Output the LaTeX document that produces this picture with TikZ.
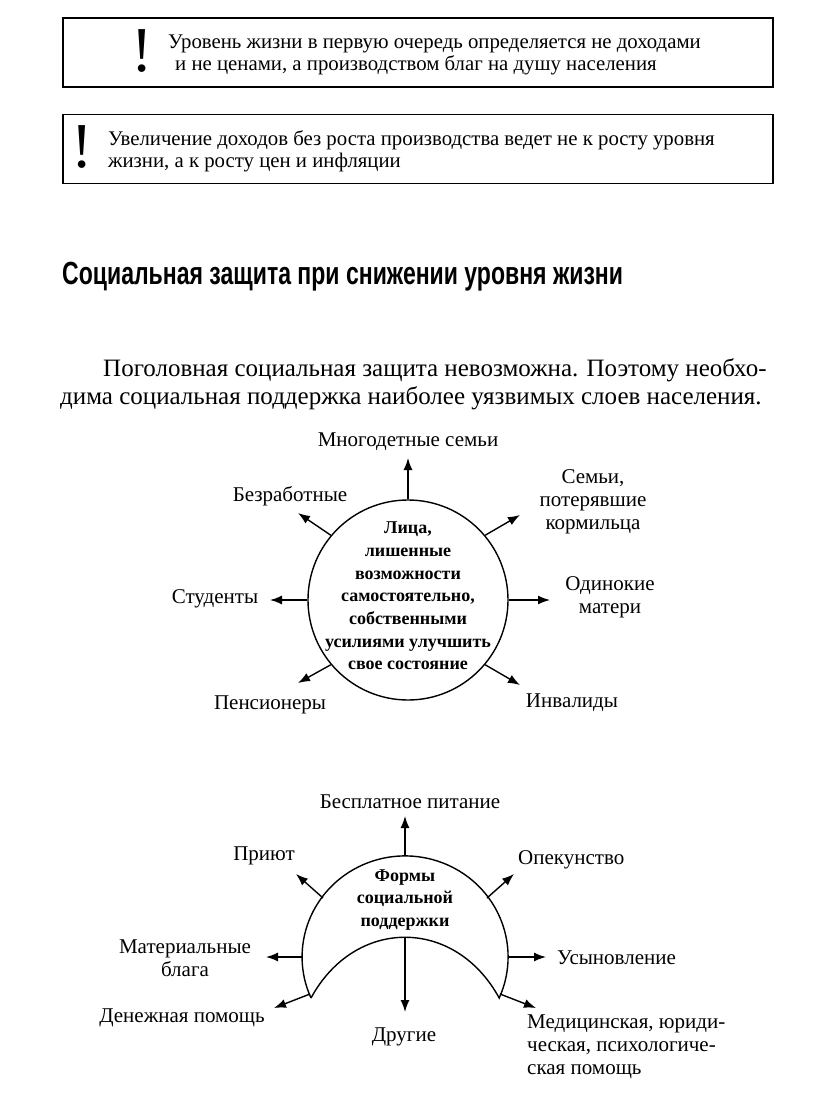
\documentclass[tikz,border=0pt]{standalone}
\usepackage{fontspec}
\setmainfont{Liberation Serif}
\newfontfamily\headfont[FakeStretch=0.72]{Liberation Sans}
\usetikzlibrary{arrows.meta}

\begin{document}
\begin{tikzpicture}[x=1pt,y=-1pt,
  every node/.style={inner sep=0pt},
  notebox/.style={draw=black,line width=1.8pt,minimum width=710pt,minimum height=69pt},
  excl/.style={font=\fontsize{64}{64}\selectfont},
  note/.style={font=\fontsize{20.8}{22}\selectfont,align=left,anchor=west},
  head/.style={font=\headfont\bfseries\fontsize{32}{34}\selectfont,anchor=west},
  para/.style={font=\fontsize{25}{28}\selectfont,align=left,anchor=west},
  lbl/.style={font=\fontsize{21}{23}\selectfont,align=center},
  ctr/.style={font=\fontsize{18}{22.7}\selectfont\bfseries,align=center},
  ar/.style={-{Latex[length=12pt,width=9pt]},line width=1.4pt}]
\fill[white] (0,0) rectangle (816,1097);
\useasboundingbox (0,0) rectangle (816,1097);
% notes
\node[notebox] (note1) at (418,52.5) {};
\node[excl] (ex1) at (142,51) {!};
\node[note] (t1) at (168,55) {Уровень жизни в первую очередь определяется не доходами\\\hspace*{7pt}и не ценами, а производством благ на душу населения};
\node[notebox] (note2) at (418,149) {};
\node[excl] (ex2) at (82,147) {!};
\node[note] (t2) at (108,151) {Увеличение доходов без роста производства ведет не к росту уровня\\жизни, а к росту цен и инфляции};
% heading and text
\node[head] (title) at (62,277) {Социальная защита при снижении уровня жизни};
\node[para] (txt) at (60,384) {\hspace*{43pt}Поголовная социальная защита невозможна. Поэтому необхо-\\дима социальная поддержка наиболее уязвимых слоев населения.};
% who needs support
\node[draw=black,circle,line width=1.4pt,minimum size=200pt] (lica) at (408,600) {};
\node[ctr] (lt) at (408,596) {Лица,\\лишенные\\возможности\\самостоятельно,\\собственными\\усилиями улучшить\\свое состояние};
\node[lbl] (mnog) at (408,442) {Многодетные семьи};
\node[lbl] (bezr) at (290,496) {Безработные};
\node[lbl] (semi) at (593,502) {Семьи,\\потерявшие\\кормильца};
\node[lbl] (stud) at (215,599) {Студенты};
\node[lbl] (odin) at (610,597) {Одинокие\\матери};
\node[lbl] (pens) at (270,705) {Пенсионеры};
\node[lbl] (inv) at (572,703) {Инвалиды};
\coordinate (a1) at (408,458);
\coordinate (a2) at (298,513);
\coordinate (a3) at (520,515);
\coordinate (a4) at (270,600);
\coordinate (a5) at (550,600);
\coordinate (a6) at (298,683);
\coordinate (a7) at (520,685);
\draw[ar] (lica.north) -- (a1);
\draw[ar] (lica.140) -- (a2);
\draw[ar] (lica.40) -- (a3);
\draw[ar] (lica.west) -- (a4);
\draw[ar] (lica.east) -- (a5);
\draw[ar] (lica.220) -- (a6);
\draw[ar] (lica.320) -- (a7);
% forms of support
\coordinate (fl) at (311,998);
\coordinate (fr) at (499,998);
\draw[line width=1.4pt] (fl) arc[start angle=156,end angle=384,x radius=103,y radius=101]
  .. controls (455,917) and (355,917) .. (fl);
\node[ctr] (forms) at (405,900) {Формы\\социальной\\поддержки};
\coordinate (s1) at (405,856);
\coordinate (s2) at (323,898);
\coordinate (s3) at (487,898);
\coordinate (s4) at (302,957);
\coordinate (s5) at (508,957);
\coordinate (s6) at (310,994);
\coordinate (s7) at (500,994);
\coordinate (s8) at (405,937);
\coordinate (b1) at (405,816);
\coordinate (b2) at (296,874);
\coordinate (b3) at (514,874);
\coordinate (b4) at (266,957);
\coordinate (b5) at (546,957);
\coordinate (b6) at (274,1008);
\coordinate (b7) at (536,1008);
\coordinate (b8) at (405,1012);
\draw[ar] (s1) -- (b1);
\draw[ar] (s2) -- (b2);
\draw[ar] (s3) -- (b3);
\draw[ar] (s4) -- (b4);
\draw[ar] (s5) -- (b5);
\draw[ar] (s6) -- (b6);
\draw[ar] (s7) -- (b7);
\draw[ar] (s8) -- (b8);
\node[lbl] (pit) at (410,802) {Бесплатное питание};
\node[lbl] (pri) at (264,856) {Приют};
\node[lbl,anchor=west] (opek) at (518,860) {Опекунство};
\node[lbl] (mat) at (185,958) {Материальные\\блага};
\node[lbl,anchor=west] (usyn) at (557,958) {Усыновление};
\node[lbl] (den) at (182,1018) {Денежная помощь};
\node[lbl] (dr) at (404,1037) {Другие};
\node[lbl,align=left,anchor=north west] (med) at (527,1015) {Медицинская, юриди-\\ческая, психологиче-\\ская помощь};
\end{tikzpicture}
\end{document}
